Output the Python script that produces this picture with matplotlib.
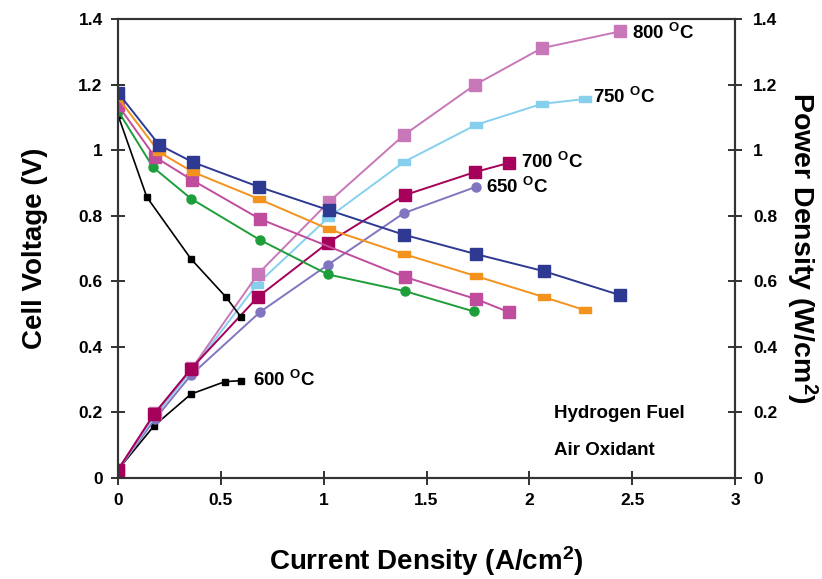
import matplotlib
matplotlib.use("Agg")
import matplotlib.pyplot as plt
from matplotlib.path import Path

plt.rcParams['font.family'] = ['Liberation Sans', 'DejaVu Sans']
plt.rcParams['font.weight'] = 'bold'
plt.rcParams['mathtext.fontset'] = 'custom'
plt.rcParams['mathtext.rm'] = 'Liberation Sans:bold'
plt.rcParams['mathtext.bf'] = 'Liberation Sans:bold'
plt.rcParams['mathtext.it'] = 'Liberation Sans:bold'

# ---- Voltage data (left axis) ----
v800_x = [0, 0.20, 0.365, 0.685, 1.025, 1.39, 1.74, 2.07, 2.44]
v800_y = [1.175, 1.016, 0.963, 0.888, 0.817, 0.742, 0.683, 0.631, 0.558]
v750_x = [0, 0.20, 0.365, 0.685, 1.025, 1.39, 1.74, 2.07, 2.27]
v750_y = [1.160, 0.994, 0.933, 0.851, 0.759, 0.683, 0.616, 0.552, 0.512]
v700_x = [0, 0.18, 0.36, 0.69, 1.395, 1.74, 1.90]
v700_y = [1.137, 0.979, 0.909, 0.790, 0.613, 0.546, 0.506]
v650_x = [0, 0.17, 0.355, 0.69, 1.02, 1.395, 1.73]
v650_y = [1.120, 0.948, 0.852, 0.726, 0.621, 0.570, 0.508]
v600_x = [0, 0.14, 0.355, 0.525, 0.598]
v600_y = [1.107, 0.857, 0.668, 0.552, 0.491]

# ---- Power data (right axis) ----
p800_x = [0, 0.18, 0.36, 0.68, 1.025, 1.39, 1.735, 2.06, 2.44]
p800_y = [0.025, 0.198, 0.335, 0.622, 0.842, 1.046, 1.199, 1.311, 1.362]
p750_x = [0, 0.18, 0.36, 0.675, 1.02, 1.39, 1.74, 2.06, 2.27]
p750_y = [0.025, 0.190, 0.330, 0.590, 0.793, 0.964, 1.077, 1.141, 1.156]
p700_x = [0, 0.175, 0.355, 0.68, 1.02, 1.395, 1.735, 1.90]
p700_y = [0.025, 0.195, 0.333, 0.552, 0.717, 0.863, 0.933, 0.961]
p650_x = [0, 0.18, 0.355, 0.69, 1.02, 1.39, 1.74]
p650_y = [0.025, 0.180, 0.314, 0.506, 0.650, 0.808, 0.888]
p600_x = [0, 0.175, 0.355, 0.52, 0.60]
p600_y = [0.025, 0.159, 0.256, 0.294, 0.297]

temp_labels = ['800', '750', '700', '650', '600']
x_ticks = [0, 0.5, 1, 1.5, 2, 2.5, 3]
x_ticklabels = ['0', '0.5', '1', '1.5', '2', '2.5', '3']
y_ticks = [0, 0.2, 0.4, 0.6, 0.8, 1.0, 1.2, 1.4]
y_ticklabels = ['0', '0.2', '0.4', '0.6', '0.8', '1', '1.2', '1.4']

rect = Path([(-1, -0.55), (1, -0.55), (1, 0.55), (-1, 0.55), (-1, -0.55)],
            [Path.MOVETO, Path.LINETO, Path.LINETO, Path.LINETO, Path.CLOSEPOLY])

C_NAVY = '#2E3A92'
C_ORANGE = '#F4921E'
C_PINKV = '#C04C9E'
C_GREEN = '#1E9E3A'
C_BLACK = '#000000'
C_LAV = '#8275C0'
C_MAG = '#A5005A'
C_PINKP = '#C878B8'
C_LBLUE = '#86D0EE'

fig = plt.figure(figsize=(8.22, 5.79), dpi=100)
ax = fig.add_axes([118/822, 1-478/579, (735-118)/822, (478-19)/579])
ax2 = ax.twinx()

lw = 1.4
# power curves
ax.plot(p600_x, p600_y, color=C_BLACK, lw=1.2, marker='s', ms=5)
ax.plot(p650_x, p650_y, color=C_LAV, lw=lw, marker='o', ms=6.5)
ax.plot(p750_x, p750_y, color=C_LBLUE, lw=lw, marker=rect, ms=9)
ax.plot(p800_x, p800_y, color=C_PINKP, lw=lw, marker='s', ms=8)
ax.plot(p700_x, p700_y, color=C_MAG, lw=lw, marker='s', ms=8)
# voltage curves
ax.plot(v600_x, v600_y, color=C_BLACK, lw=1.2, marker='s', ms=5)
ax.plot(v650_x, v650_y, color=C_GREEN, lw=lw, marker='o', ms=6.5)
ax.plot(v700_x, v700_y, color=C_PINKV, lw=lw, marker='s', ms=8)
ax.plot(v750_x, v750_y, color=C_ORANGE, lw=lw, marker=rect, ms=9)
ax.plot(v800_x, v800_y, color=C_NAVY, lw=lw, marker='s', ms=8)

lab_pos = {'800': (2.50, 1.357), '750': (2.31, 1.162), '700': (1.96, 0.964),
           '650': (1.79, 0.887), '600': (0.655, 0.299)}
for t in temp_labels:
    x, y = lab_pos[t]
    ax.text(x, y, t + r' $^{\mathrm{O}}$C', fontsize=13.5, fontweight='bold',
            va='center', ha='left')

ax.text(2.12, 0.198, 'Hydrogen Fuel', fontsize=13.5, fontweight='bold', va='center')
ax.text(2.12, 0.085, 'Air Oxidant', fontsize=13.5, fontweight='bold', va='center')

for a in (ax, ax2):
    a.set_ylim(0, 1.4)
    a.set_yticks(y_ticks)
    a.set_yticklabels(y_ticklabels, fontsize=12.5, fontweight='bold')
    a.tick_params(axis='y', direction='inout', length=10, width=1.3, color='#222222')
    for s in a.spines.values():
        s.set_linewidth(1.5)
        s.set_color('#333333')
ax.set_xlim(0, 3)
ax.set_xticks(x_ticks)
ax.set_xticklabels(x_ticklabels, fontsize=12.5, fontweight='bold')
ax.tick_params(axis='x', direction='inout', length=10, width=1.3, color='#222222', pad=6)
ax.tick_params(axis='y', pad=6)
ax2.tick_params(axis='y', pad=8)

ax.set_xlabel(r'Current Density (A/cm$^{\mathrm{2}}$)', fontsize=20, fontweight='bold', labelpad=26)
ax.set_ylabel('Cell Voltage (V)', fontsize=20, fontweight='bold', labelpad=22)
ax2.set_ylabel(r'Power Density (W/cm$^{\mathrm{2}}$)', fontsize=20.5, fontweight='bold',
               rotation=270, labelpad=30)

fig.savefig('out.png', dpi=100)
